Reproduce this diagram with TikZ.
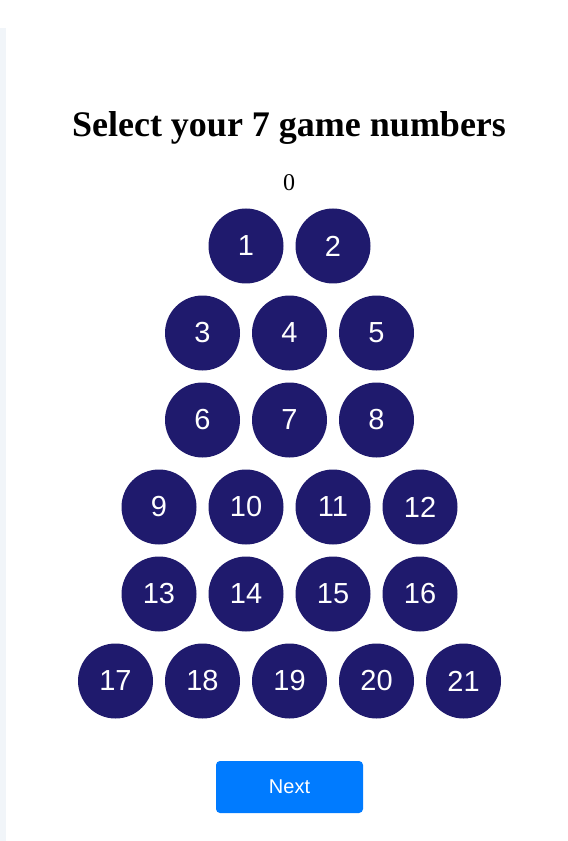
\documentclass[tikz,border=0pt]{standalone}
\usepackage{fontspec}
\setmainfont{Liberation Serif}
\newfontfamily\arialf{Liberation Sans}
\definecolor{ballc}{RGB}{31,26,109}
\definecolor{btnc}{RGB}{0,123,255}
\definecolor{stripc}{RGB}{241,245,249}
\begin{document}
\begin{tikzpicture}[x=0.75pt,y=-0.75pt,
  ball/.style={circle,fill=ballc,minimum size=56.25pt,inner sep=0pt,text=white,font=\arialf\fontsize{21.75}{24}\selectfont},
  titlef/.style={font=\bfseries\fontsize{27}{30}\selectfont,anchor=base},
  counter/.style={font=\fontsize{18}{20}\selectfont,anchor=base},
  btn/.style={rectangle,rounded corners=3pt,fill=btnc,minimum width=110.25pt,minimum height=39pt,inner sep=0pt,text=white,font=\arialf\fontsize{15}{18}\selectfont}]
\useasboundingbox (0,0) rectangle (567,841);
\fill[white] (0,0) rectangle (567,841);
\fill[stripc] (0,28) rectangle (6,841);
\fill[white,rounded corners=6pt] (6,18) rectangle (580,860);
\node[titlef] (title) at (289,137) {Select your 7 game numbers};
\node[counter] (count) at (289,191) {0};
% row 1
\node[ball] (b1) at (246,246) {1};
\node[ball] (b2) at (333,246) {2};
% row 2
\node[ball] (b3) at (202.5,333) {3};
\node[ball] (b4) at (289.5,333) {4};
\node[ball] (b5) at (376.5,333) {5};
% row 3
\node[ball] (b6) at (202.5,420) {6};
\node[ball] (b7) at (289.5,420) {7};
\node[ball] (b8) at (376.5,420) {8};
% row 4
\node[ball] (b9) at (159,507) {9};
\node[ball] (b10) at (246,507) {10};
\node[ball] (b11) at (333,507) {11};
\node[ball] (b12) at (420,507) {12};
% row 5
\node[ball] (b13) at (159,594) {13};
\node[ball] (b14) at (246,594) {14};
\node[ball] (b15) at (333,594) {15};
\node[ball] (b16) at (420,594) {16};
% row 6
\node[ball] (b17) at (115.5,681) {17};
\node[ball] (b18) at (202.5,681) {18};
\node[ball] (b19) at (289.5,681) {19};
\node[ball] (b20) at (376.5,681) {20};
\node[ball] (b21) at (463.5,681) {21};
% button
\node[btn] (next) at (289.5,787) {Next};
\end{tikzpicture}
\end{document}
